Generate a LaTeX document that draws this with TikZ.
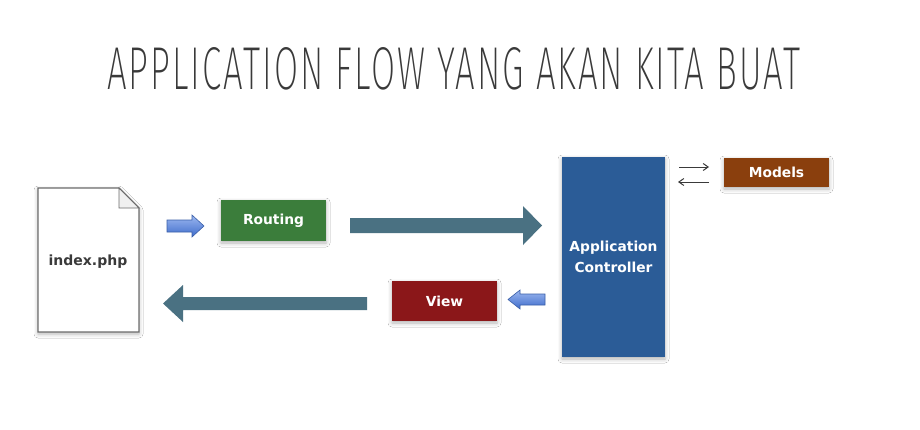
\documentclass[tikz,border=0pt]{standalone}
\usepackage{fontspec}
\setmainfont{DejaVu Sans}
\newfontfamily\titlefont{Fira Sans ExtraLight}[LetterSpace=6]
\usetikzlibrary{shadows.blur,arrows.meta}
\definecolor{routegreen}{HTML}{3B7D3B}
\definecolor{ctrlblue}{HTML}{2B5C97}
\definecolor{modelbrown}{HTML}{8A3F0D}
\definecolor{viewred}{HTML}{8B1719}
\definecolor{flowteal}{HTML}{4A7182}
\definecolor{smallblueA}{HTML}{9DB8F0}
\definecolor{smallblueB}{HTML}{3E6CCB}
\definecolor{smallblueE}{HTML}{3A5FA8}
\definecolor{titlegray}{HTML}{3A3A3A}
\tikzset{
  softshadow/.style={blur shadow={shadow xshift=0pt,shadow yshift=-2pt,shadow blur radius=4pt,shadow opacity=30}},
  box/.style={rectangle, inner sep=0pt, text=white, font=\bfseries\fontsize{13.8}{21}\selectfont, align=center, softshadow},
  fatarrow/.style={fill=flowteal, draw=none},
  smallarrow/.style={top color=smallblueA, bottom color=smallblueB, draw=smallblueE, line width=0.6pt},
  thinarrow/.style={draw=titlegray, line width=1pt, -{Straight Barb[length=5pt,width=7pt]}},
}
\begin{document}
\begin{tikzpicture}[x=1pt,y=-1pt]
\useasboundingbox (0,0) rectangle (920,429);
\fill[white] (0,0) rectangle (920,429);

% title
\node[anchor=south west, inner sep=0pt, text=titlegray] (title) at (107,90)
  {\resizebox{693pt}{42pt}{\titlefont APPLICATION FLOW YANG AKAN KITA BUAT}};

% document icon
\draw[fill=white, draw=gray!85!black, line width=1.1pt, softshadow]
  (38,188) -- (119,188) -- (139,208) -- (139,332) -- (38,332) -- cycle;
\draw[fill=gray!12, draw=gray!85!black, line width=0.9pt]
  (119,188) -- (119,208) -- (139,208) -- cycle;
\node[inner sep=0pt, text=titlegray, font=\bfseries\fontsize{14}{16}\selectfont] (doc) at (88,262) {index.php};

% boxes
\node[box, fill=routegreen, minimum width=105pt, minimum height=41pt] (routing) at (273.5,220.5) {Routing};
\node[box, fill=ctrlblue, minimum width=103pt, minimum height=200pt] (ctrl) at (613.5,257) {Application\\Controller};
\node[box, fill=modelbrown, minimum width=105pt, minimum height=29pt] (models) at (776.5,172.5) {Models};
\node[box, fill=viewred, minimum width=105pt, minimum height=40pt] (view) at (444.5,301) {View};

% small blue arrows
\draw[smallarrow] (167,220) -- (192,220) -- (192,215) -- (204,226) -- (192,237) -- (192,232) -- (167,232) -- cycle;
\draw[smallarrow] (545,294) -- (520,294) -- (520,290) -- (508,299.5) -- (520,309) -- (520,305) -- (545,305) -- cycle;

% big teal arrows
\fill[fatarrow] (350,218) -- (523,218) -- (523,206) -- (542,225.5) -- (523,245) -- (523,233) -- (350,233) -- cycle;
\fill[fatarrow] (367,297) -- (183,297) -- (183,285) -- (163,303.5) -- (183,322) -- (183,310) -- (367,310) -- cycle;

% controller <-> models
\coordinate (c1) at (679,167);
\coordinate (m1) at (709,167);
\coordinate (m2) at (709,182);
\coordinate (c2) at (678,182);
\draw[thinarrow] (c1) -- (m1);
\draw[thinarrow] (m2) -- (c2);
\end{tikzpicture}
\end{document}
